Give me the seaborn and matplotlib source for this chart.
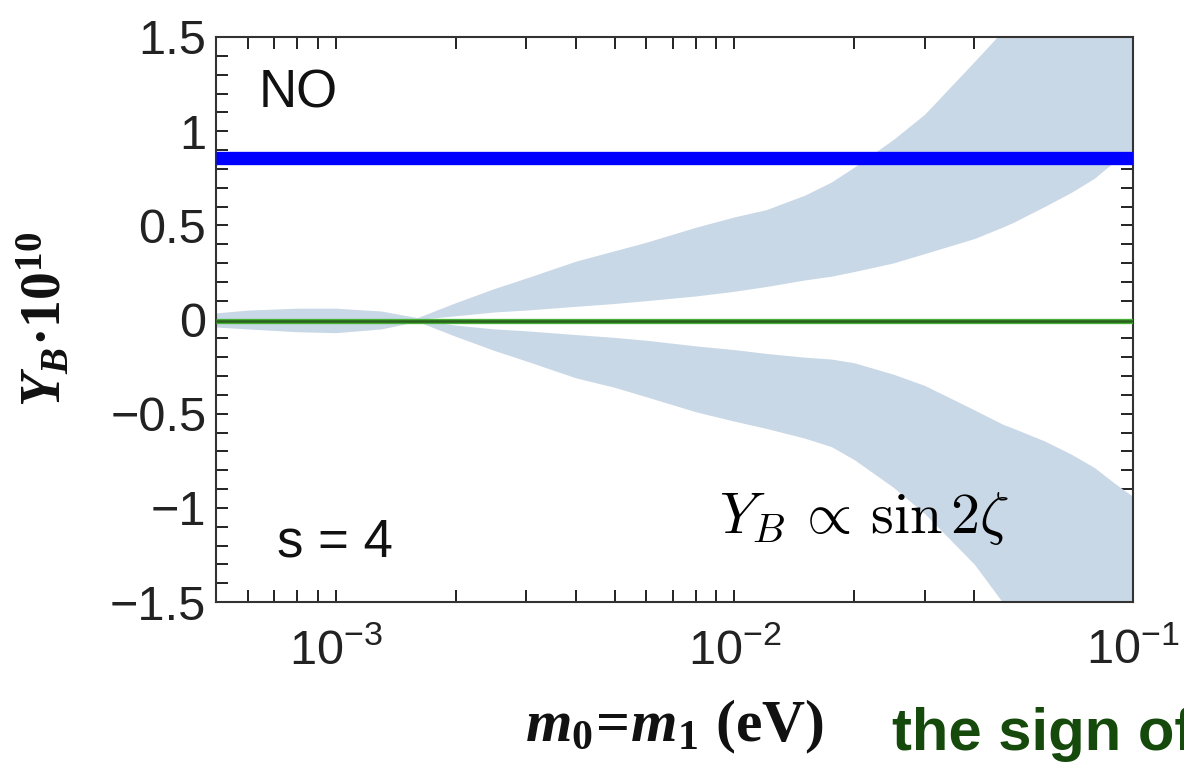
import numpy as np
import pandas as pd
import matplotlib
matplotlib.use("Agg")
import matplotlib.pyplot as plt
import seaborn as sns
from matplotlib.ticker import FixedLocator, NullFormatter

# ---------------- data ----------------
m0 = [5e-4, 6e-4, 8e-4, 1e-3, 1.3e-3, 1.6e-3, 2e-3, 2.5e-3, 3e-3, 4e-3, 5e-3,
      6e-3, 8e-3, 1e-2, 1.2e-2, 1.5e-2, 1.75e-2, 2e-2, 2.5e-2, 3e-2, 4e-2,
      4.7e-2, 5e-2, 6e-2, 7e-2, 8e-2, 9e-2, 1e-1]
upper_outer = [0.035, 0.05, 0.06, 0.06, 0.045, 0.01, 0.09, 0.165, 0.22, 0.31,
               0.365, 0.41, 0.49, 0.545, 0.583, 0.66, 0.73, 0.81, 0.955, 1.09,
               1.37, 1.53, 1.60, 1.85, 2.05, 2.25, 2.45, 2.60]
upper_inner = [0, 0, 0, 0, 0, 0, 0.02, 0.04, 0.05, 0.07, 0.085, 0.10, 0.125,
               0.15, 0.175, 0.21, 0.23, 0.255, 0.30, 0.35, 0.43, 0.49, 0.515,
               0.60, 0.675, 0.75, 0.84, 0.90]
lower_inner = [0, 0, 0, 0, 0, 0, -0.03, -0.05, -0.06, -0.08, -0.095, -0.11,
               -0.14, -0.16, -0.18, -0.20, -0.21, -0.23, -0.29, -0.35, -0.48,
               -0.555, -0.577, -0.645, -0.715, -0.786, -0.87, -0.94]
lower_outer = [-0.04, -0.05, -0.065, -0.07, -0.05, -0.01, -0.09, -0.165, -0.22,
               -0.31, -0.36, -0.41, -0.49, -0.54, -0.578, -0.63, -0.675, -0.745,
               -0.89, -1.03, -1.30, -1.50, -1.60, -1.85, -2.05, -2.25, -2.45,
               -2.60]

line_x = [5e-4, 1e-1]
blue_y = [0.86, 0.86]
green_y = [-0.01, -0.01]

xtick_vals = [1e-3, 1e-2, 1e-1]
xtick_labels = [r"$\mathregular{10^{-3}}$", r"$\mathregular{10^{-2}}$",
                r"$\mathregular{10^{-1}}$"]
ytick_vals = [-1.5, -1.0, -0.5, 0.0, 0.5, 1.0, 1.5]
ytick_labels = ["\u22121.5", "\u22121", "\u22120.5", "0", "0.5", "1", "1.5"]

# ---------------- style ----------------
sns.set_theme(style="ticks")
plt.rcParams["font.family"] = ["Liberation Sans", "DejaVu Sans"]
plt.rcParams["mathtext.fontset"] = "custom"
plt.rcParams["mathtext.rm"] = "Liberation Serif:bold"
plt.rcParams["mathtext.it"] = "Liberation Serif:italic:bold"
plt.rcParams["mathtext.bf"] = "Liberation Serif:bold"

fig = plt.figure(figsize=(11.84, 7.62), dpi=100)
ax = fig.add_axes([216 / 1184, 1 - 602 / 762, (1133 - 216) / 1184, (602 - 37) / 762])

band_color = "#c9d8e6"
ax.fill_between(m0, upper_inner, upper_outer, color=band_color, linewidth=0, zorder=1)
ax.fill_between(m0, lower_outer, lower_inner, color=band_color, linewidth=0, zorder=1)

df = pd.DataFrame({"m0": line_x, "blue": blue_y, "green": green_y})
sns.lineplot(data=df, x="m0", y="blue", color="#0000ff", linewidth=9.6,
             solid_capstyle="butt", ax=ax, zorder=3)
sns.lineplot(data=df, x="m0", y="green", color="#45b035", linewidth=3.8,
             solid_capstyle="butt", ax=ax, zorder=4)
sns.lineplot(data=df, x="m0", y="green", color="#2a5f1e", linewidth=1.8,
             solid_capstyle="butt", ax=ax, zorder=5)

ax.set_xscale("log")
ax.set_xlim(5e-4, 1e-1)
ax.set_ylim(-1.5, 1.5)

ax.set_xticks(xtick_vals)
ax.set_xticklabels(xtick_labels)
minors = [k * 10.0 ** e for e in (-4, -3, -2) for k in range(2, 10)]
ax.xaxis.set_minor_locator(FixedLocator(minors))
ax.xaxis.set_minor_formatter(NullFormatter())
ax.set_yticks(ytick_vals)
ax.set_yticklabels(ytick_labels)
ax.yaxis.set_minor_locator(FixedLocator(np.round(np.arange(-1.5, 1.51, 0.1), 2)))

for s in ax.spines.values():
    s.set_linewidth(1.5)
    s.set_color("#333333")
ax.tick_params(which="both", direction="in", top=True, right=True,
               length=8.5, width=1.4, color="#222222")
ax.tick_params(axis="both", which="major", labelsize=35, labelcolor="#222222")
ax.tick_params(axis="y", which="major", pad=7)
ax.tick_params(axis="x", which="major", pad=19)

ax.set_xlabel(r"$m_0\!=\!m_1\ \mathrm{(eV)}$", fontsize=43, color="#111111")
ax.xaxis.set_label_coords(0.5, -0.17)
ax.set_ylabel("$Y_B\\mathrm{\u00b710^{10}}$", fontsize=40, color="#111111")
ax.yaxis.set_label_coords(-0.156, 0.5)

ax.text(0.046, 0.90, "NO", transform=ax.transAxes, fontsize=38,
        ha="left", va="center", color="#111111")
ax.text(0.0665, 0.106, "s = 4", transform=ax.transAxes, fontsize=38,
        ha="left", va="center", color="#111111")
ax.text(0.549, 0.122, r"$Y_B\,\propto\,\sin 2\zeta$", transform=ax.transAxes,
        fontsize=42, ha="left", va="baseline", color="black", math_fontfamily="cm")

# partially visible caption, cut by the right edge exactly as in the reference
fig.text(892 / 1184, (762 - 750) / 762, "the sign of", fontsize=43,
         fontweight="bold", color="#154a0c", ha="left", va="baseline")

fig.savefig("out.png", dpi=100)
